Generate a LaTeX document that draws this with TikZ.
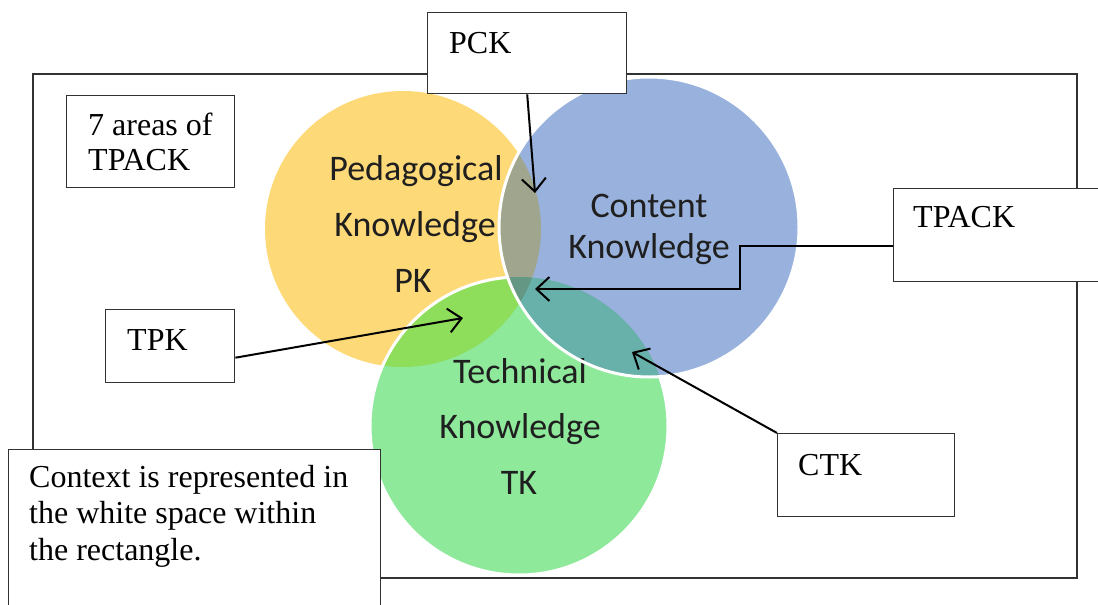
\documentclass[tikz,border=0pt]{standalone}
\usepackage{fontspec}
\setmainfont{Liberation Serif}
\newfontfamily\calib{Carlito}
\usetikzlibrary{arrows.meta}
\definecolor{cY}{RGB}{254,217,120}
\definecolor{cB}{RGB}{152,178,221}
\definecolor{cG}{RGB}{142,233,155}
\definecolor{cYB}{RGB}{160,166,142}
\definecolor{cYG}{RGB}{142,222,92}
\definecolor{cBG}{RGB}{104,176,170}
\definecolor{cYBG}{RGB}{100,152,132}
\definecolor{frame}{RGB}{50,50,50}
\begin{document}
\begin{tikzpicture}[x=1pt,y=-1pt,
  box/.style={draw=frame, line width=1.4pt, fill=white, inner sep=0pt, anchor=north west},
  lbl/.style={font=\fontsize{32}{35}\selectfont, anchor=base west, inner sep=0pt},
  vlab/.style={font=\calib\fontsize{36}{40}\selectfont, text=black!88, anchor=base, inner sep=0pt},
  arr/.style={-{Straight Barb[length=13pt,width=24pt,line width=2pt]}, line width=2pt, line join=miter}]
\clip (0,0) rectangle (1098,605);
\fill[white] (0,0) rectangle (1098,605);
% context rectangle
\draw[line width=1.4pt, draw=frame] (33,74) rectangle (1077,578);
% circles
\def\Yc{(403,229) circle[radius=138]}
\def\Bc{(649,227) circle[radius=150]}
\def\Gc{(519,426) circle[radius=149]}
\fill[cY] \Yc;
\fill[cG] \Gc;
\begin{scope}\clip \Yc; \fill[cYG] \Gc; \end{scope}
\draw[white, line width=3pt] \Gc;
\fill[cB] \Bc;
\begin{scope}\clip \Yc; \fill[cYB] \Bc; \end{scope}
\begin{scope}\clip \Gc; \fill[cBG] \Bc; \end{scope}
\begin{scope}\clip \Yc; \clip \Gc; \fill[cYBG] \Bc; \end{scope}
% labels in circles
\node[vlab] (pk1) at (416,180) {Pedagogical};
\node[vlab] (pk2) at (415,236) {Knowledge};
\node[vlab] (pk3) at (413,292) {PK};
\node[vlab] (tk1) at (520,383) {Technical};
\node[vlab] (tk2) at (520,438) {Knowledge};
\node[vlab] (tk3) at (519,494) {TK};
\draw[white, line width=3pt] \Bc;
\node[vlab] (ck1) at (649,217) {Content};
\node[vlab] (ck2) at (649,258) {Knowledge};
% boxes
\node[box, minimum width=168pt, minimum height=92pt] (areas) at (66,95) {};
\node[lbl] (areas1) at (88,135) {7 areas of};
\node[lbl] (areas2) at (88,170) {TPACK};
\node[box, minimum width=199pt, minimum height=81pt] (pck) at (427,12) {};
\node[lbl] (pcklbl) at (449,53) {PCK};
\node[box, minimum width=215pt, minimum height=93pt] (tpack) at (893,188) {};
\node[lbl] (tpacklbl) at (913,227) {TPACK};
\node[box, minimum width=129pt, minimum height=73pt] (tpk) at (105,309) {};
\node[lbl] (tpklbl) at (127,350) {TPK};
\node[box, minimum width=177pt, minimum height=83pt] (ctk) at (777,433) {};
\node[lbl] (ctklbl) at (798,475) {CTK};
\node[box, minimum width=372pt, minimum height=170pt] (ctx) at (8,449) {};
\node[lbl] (ctx1) at (29,487) {Context is represented in};
\node[lbl] (ctx2) at (29,523) {the white space within};
\node[lbl] (ctx3) at (29,560) {the rectangle.};
% arrow targets
\coordinate (pcktip) at (535,193);
\coordinate (tpacktip) at (535,289);
\coordinate (tpktip) at (463,318);
\coordinate (ctktip) at (632,352);
% arrows
\draw[arr] (pck.south) -- (pcktip);
\draw[arr] ([yshift=-10.5pt]tpack.west) -| ([xshift=205pt]tpacktip) -- (tpacktip);
\draw[arr] ([yshift=-11.5pt]tpk.east) -- (tpktip);
\draw[arr] (ctk.north west) -- (ctktip);
\end{tikzpicture}
\end{document}
